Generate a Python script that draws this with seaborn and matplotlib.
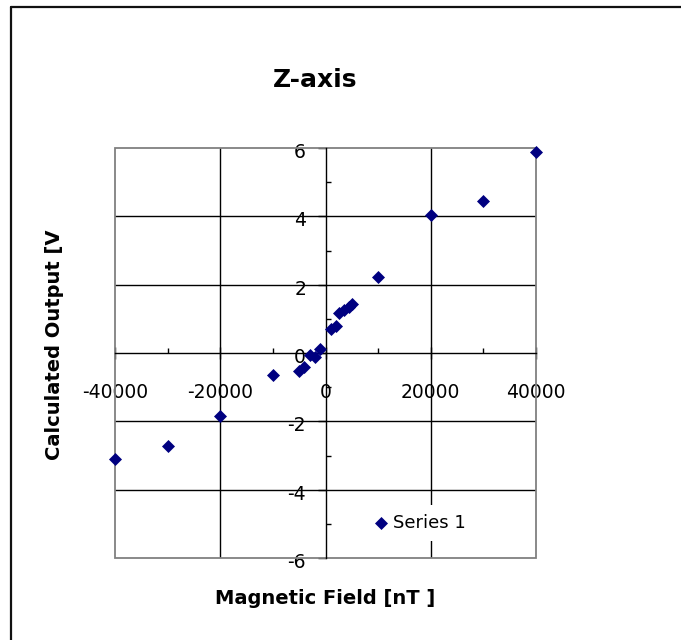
import matplotlib
matplotlib.use("Agg")
import matplotlib.pyplot as plt
import matplotlib.transforms as mtransforms
from matplotlib.lines import Line2D
from matplotlib.patches import Rectangle
from matplotlib.ticker import MultipleLocator, FixedLocator
import seaborn as sns
import pandas as pd

# ---- data ----
field_nT = [-40000, -30000, -20000, -10000, -5000, -4000, -3000, -2000, -1000,
            1000, 2000, 2500, 3500, 4500, 5000, 10000, 20000, 30000, 40000]
output_V = [-3.10, -2.71, -1.83, -0.65, -0.53, -0.41, -0.07, -0.12, 0.11,
            0.69, 0.78, 1.17, 1.27, 1.35, 1.42, 2.21, 4.04, 4.46, 5.89]
series_name = "Series 1"
x_ticks = [-40000, -20000, 0, 20000, 40000]
y_ticks = [-6, -4, -2, 0, 2, 4, 6]
title = "Z-axis"
x_label = "Magnetic Field [nT ]"
y_label = "Calculated Output [V"

df = pd.DataFrame({"field": field_nT, "out": output_V})

sns.set_style("white")
plt.rcParams["font.family"] = ["DejaVu Sans"]
plt.rcParams["text.color"] = "black"
plt.rcParams["axes.labelcolor"] = "black"
plt.rcParams["xtick.color"] = "black"
plt.rcParams["ytick.color"] = "black"

W, H = 681, 640
fig = plt.figure(figsize=(W / 100, H / 100), dpi=100)
fig.patch.set_facecolor("white")

left, right, top, bottom = 115, 536, 148, 558
ax = fig.add_axes([left / W, (H - bottom) / H, (right - left) / W, (bottom - top) / H])
ax.set_facecolor("white")

sns.scatterplot(data=df, x="field", y="out", marker="D", color="#000080",
                s=44, linewidth=0, label=series_name, ax=ax, zorder=5, clip_on=False)

ax.set_xlim(-40000, 40000)
ax.set_ylim(-6, 6)

# gridlines
for gx in (-20000, 20000):
    ax.axvline(gx, color="black", lw=1.0, zorder=1)
for gy in (-4, -2, 2, 4):
    ax.axhline(gy, color="black", lw=1.0, zorder=1)

# plot area border
ax.add_patch(Rectangle((0, 0), 1, 1, transform=ax.transAxes, fill=False,
                       edgecolor="#808080", lw=1.3, zorder=2, clip_on=False))

# axes crossing at zero
for s in ("top", "right"):
    ax.spines[s].set_visible(False)
ax.spines["left"].set_position(("data", 0))
ax.spines["bottom"].set_position(("data", 0))
for s in ("left", "bottom"):
    ax.spines[s].set_color("black")
    ax.spines[s].set_linewidth(1.0)
    ax.spines[s].set_zorder(3)

ax.xaxis.set_major_locator(FixedLocator(x_ticks))
ax.xaxis.set_minor_locator(MultipleLocator(10000))
ax.yaxis.set_major_locator(FixedLocator(y_ticks))
ax.yaxis.set_minor_locator(MultipleLocator(1))
ax.set_xticklabels([str(v) for v in x_ticks])
ax.set_yticklabels([str(v) for v in y_ticks])

ax.tick_params(axis="x", which="major", direction="inout", length=8, width=1,
               pad=17.5, labelsize=13.5, colors="black", bottom=True)
ax.tick_params(axis="x", which="minor", direction="in", length=3.5, width=1,
               bottom=True, colors="black")
ax.tick_params(axis="y", which="major", direction="out", length=6, width=1,
               pad=8, labelsize=13.5, colors="black", left=True)
ax.tick_params(axis="y", which="minor", direction="in", length=3.5, width=1,
               left=True, colors="black")

off = mtransforms.ScaledTranslation(0, -2.5 / 100, fig.dpi_scale_trans)
for lab in ax.get_yticklabels():
    lab.set_transform(lab.get_transform() + off)

ax.set_xlabel("")
ax.set_ylabel("")

leg = ax.legend(loc="center", bbox_to_anchor=(418 / W, 1 - 523 / H),
                bbox_transform=fig.transFigure, frameon=True, fancybox=False,
                framealpha=1, facecolor="white", edgecolor="none", fontsize=13,
                handletextpad=0.1, borderpad=0.5, handlelength=1.2, markerscale=1.0,
                labelcolor="black")
leg.set_zorder(6)

fig.text(315 / W, 1 - 80 / H, title, ha="center", va="center",
         fontsize=18, fontweight="bold", color="black")
fig.text(325 / W, 1 - 599 / H, x_label, ha="center", va="center",
         fontsize=14, fontweight="bold", color="black")
fig.text(54 / W, 1 - 345 / H, y_label, ha="center", va="center",
         rotation=90, fontsize=14, fontweight="bold", color="black")

# outer chart border (left and top visible)
fig.add_artist(Line2D([11 / W, 11 / W], [0, 1 - 7 / H], transform=fig.transFigure,
                      color="#111111", lw=1.6))
fig.add_artist(Line2D([11 / W, 1], [1 - 7 / H, 1 - 7 / H], transform=fig.transFigure,
                      color="#111111", lw=1.6))

fig.savefig("out.png", dpi=100, facecolor="white")
